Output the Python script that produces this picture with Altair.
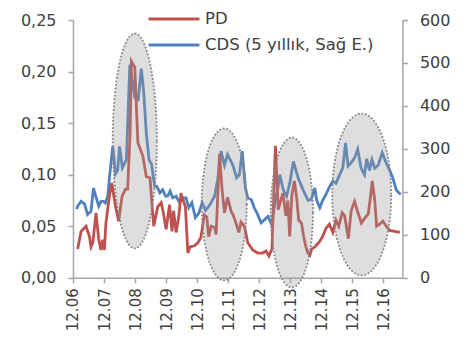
import altair as alt
import numpy as np
import pandas as pd

# ---- data (t = years after the "12.06" tick) ----
pd_t = [0.15,0.26,0.42,0.53,0.58,0.64,0.74,0.83,0.90,0.96,1.01,1.06,1.17,1.25,1.37,1.47,1.58,1.69,1.76,1.84,1.88,1.99,2.09,2.25,2.36,2.48,2.55,2.60,2.73,2.84,2.91,3.00,3.11,3.19,3.24,3.32,3.41,3.48,3.56,3.62,3.70,3.77,3.91,4.02,4.12,4.23,4.31,4.37,4.45,4.56,4.61,4.72,4.80,4.88,4.98,5.09,5.17,5.25,5.34,5.41,5.52,5.63,5.79,5.95,6.11,6.22,6.31,6.41,6.52,6.61,6.69,6.76,6.86,6.92,6.98,7.05,7.13,7.21,7.27,7.36,7.43,7.50,7.57,7.63,7.69,7.79,7.94,8.04,8.15,8.26,8.37,8.47,8.56,8.67,8.75,8.87,8.96,9.07,9.17,9.29,9.40,9.51,9.58,9.64,9.72,9.78,9.88,9.98,10.09,10.20,10.36,10.53]
pd_v = [0.028,0.045,0.050,0.040,0.030,0.034,0.063,0.037,0.027,0.037,0.027,0.053,0.079,0.092,0.069,0.055,0.079,0.086,0.086,0.141,0.210,0.204,0.131,0.118,0.098,0.097,0.069,0.050,0.069,0.073,0.063,0.047,0.071,0.045,0.065,0.044,0.060,0.082,0.074,0.069,0.024,0.030,0.031,0.034,0.039,0.061,0.059,0.040,0.050,0.049,0.042,0.120,0.086,0.063,0.078,0.065,0.060,0.053,0.044,0.054,0.050,0.034,0.027,0.024,0.024,0.026,0.021,0.028,0.128,0.066,0.075,0.082,0.060,0.075,0.040,0.080,0.094,0.076,0.056,0.053,0.040,0.030,0.024,0.022,0.028,0.030,0.035,0.040,0.048,0.052,0.044,0.056,0.050,0.063,0.060,0.038,0.065,0.074,0.064,0.053,0.058,0.062,0.078,0.094,0.075,0.050,0.052,0.055,0.050,0.046,0.045,0.044]

cds_t = [0.12,0.15,0.26,0.37,0.47,0.58,0.66,0.74,0.83,0.90,0.98,1.04,1.12,1.19,1.28,1.37,1.44,1.50,1.59,1.72,1.77,1.83,1.92,1.99,2.10,2.20,2.28,2.36,2.45,2.53,2.63,2.70,2.80,2.89,2.98,3.05,3.13,3.21,3.32,3.43,3.53,3.64,3.73,3.83,3.94,4.05,4.16,4.27,4.39,4.56,4.66,4.77,4.88,4.98,5.15,5.27,5.36,5.45,5.55,5.63,5.74,5.84,5.95,6.06,6.17,6.28,6.40,6.52,6.61,6.66,6.77,6.88,6.98,7.10,7.25,7.41,7.57,7.67,7.79,7.85,7.95,8.04,8.15,8.27,8.37,8.47,8.59,8.69,8.78,8.86,8.96,9.07,9.17,9.28,9.39,9.46,9.55,9.63,9.72,9.83,9.96,10.07,10.19,10.30,10.41,10.52,10.56]
cds_v = [160,167,178,172,147,155,209,188,167,178,178,174,190,244,306,242,250,306,256,275,376,496,455,419,415,487,430,337,275,264,213,213,198,205,190,190,202,186,190,175,185,186,163,175,140,150,175,157,168,190,229,295,262,287,262,233,240,295,210,186,182,163,147,128,135,143,124,182,213,240,205,190,219,271,233,205,180,182,209,180,163,180,194,213,225,220,240,256,314,260,268,279,299,255,240,277,250,275,255,262,291,270,252,233,205,196,195]

series_names = ["PD", "CDS (5 yıllık, Sağ E.)"]
series_colors = ["#C0504D", "#4F81BD"]

x_ticks = list(range(11))
x_labels_expr = "'12.' + (datum.value < 4 ? '0' : '') + (datum.value + 6)"
pd_ticks = [0, 0.05, 0.10, 0.15, 0.20, 0.25]
cds_ticks = [0, 100, 200, 300, 400, 500, 600]

# highlighted periods (ellipses) in data units: centre t, centre PD, half-width (years), half-height (PD)
ell_cx = [1.99, 4.87, 7.05, 9.30]
ell_cy = [0.1327, 0.0711, 0.0633, 0.0808]
ell_rx = [0.71, 0.725, 0.68, 0.95]
ell_ry = [0.1042, 0.0737, 0.0727, 0.0785]

# ---- tables ----
df_pd = pd.DataFrame({"t": pd_t, "v": pd_v, "series": series_names[0]})
df_cds = pd.DataFrame({"t": cds_t, "v": cds_v, "series": series_names[1]})

fill_rows, line_rows = [], []
for i in range(len(ell_cx)):
    for th in np.linspace(0, np.pi, 80):
        fill_rows.append({"id": i, "x": ell_cx[i] + ell_rx[i] * np.cos(th),
                          "y": ell_cy[i] + ell_ry[i] * np.sin(th),
                          "y2": ell_cy[i] - ell_ry[i] * np.sin(th)})
    for k, th in enumerate(np.linspace(0, 2 * np.pi, 160)):
        line_rows.append({"id": i, "k": k, "x": ell_cx[i] + ell_rx[i] * np.cos(th),
                          "y": ell_cy[i] + ell_ry[i] * np.sin(th)})
df_fill = pd.DataFrame(fill_rows)
df_outline = pd.DataFrame(line_rows)

xscale = alt.Scale(domain=[0, 10.61], nice=False, zero=False)
pd_scale = alt.Scale(domain=[0, 0.25], nice=False)
cds_scale = alt.Scale(domain=[0, 600], nice=False)
color = alt.Color("series:N", scale=alt.Scale(domain=series_names, range=series_colors),
                  legend=alt.Legend(title=None, orient="none", legendX=91, legendY=-11,
                                    symbolType="M-3,0L3,0", symbolSize=289, symbolStrokeWidth=3,
                                    labelFontSize=16.5, labelFont="DejaVu Sans", labelColor="#404040",
                                    labelLimit=400, rowPadding=7, labelOffset=21, padding=0))

x_axis = alt.Axis(values=x_ticks, labelExpr=x_labels_expr, labelAngle=-90,
                  labelPadding=5, labelFontSize=15, labelOverlap=False)

cds_line = alt.Chart(df_cds).mark_line(strokeWidth=2.8).encode(
    x=alt.X("t:Q", scale=xscale, title=None, axis=x_axis),
    y=alt.Y("v:Q", scale=cds_scale, title=None,
            axis=alt.Axis(orient="right", values=cds_ticks, labelPadding=12)),
    color=color,
)
pd_line = alt.Chart(df_pd).mark_line(strokeWidth=2.8).encode(
    x=alt.X("t:Q", scale=xscale, title=None, axis=x_axis),
    y=alt.Y("v:Q", scale=pd_scale, title=None,
            axis=alt.Axis(orient="left", values=pd_ticks, labelPadding=12,
                          labelExpr="replace(format(datum.value, '.2f'), '.', ',')")),
    color=color,
)
ell_fill = alt.Chart(df_fill).mark_area(color="#9a9a9a", opacity=0.33).encode(
    x=alt.X("x:Q", scale=xscale, title=None, axis=x_axis),
    y=alt.Y("y:Q", scale=pd_scale, axis=None),
    y2="y2:Q",
    detail="id:N",
)
ell_line = alt.Chart(df_outline).mark_line(color="#858585", strokeWidth=1.8, strokeDash=[1.8, 1.8]).encode(
    x=alt.X("x:Q", scale=xscale, title=None, axis=x_axis),
    y=alt.Y("y:Q", scale=pd_scale, axis=None),
    order="k:Q",
    detail="id:N",
)

chart = alt.layer(cds_line, pd_line, ell_fill, ell_line).resolve_scale(
    y="independent"
).properties(
    width=329.4, height=257.8,
    autosize=alt.AutoSizeParams(type="none"),
    padding={"left": 65, "top": 12, "right": 50, "bottom": 70},
).configure_view(stroke=None).configure_axis(
    grid=False, domainColor="#a6a6a6", tickColor="#a6a6a6", domainWidth=1.5, tickWidth=1.5,
    tickSize=5, labelColor="#404040", labelFontSize=16, labelFont="DejaVu Sans",
).configure_axisX(labelOverlap=False)

chart.save("out.html", embed_options={"renderer": "svg", "actions": False})
